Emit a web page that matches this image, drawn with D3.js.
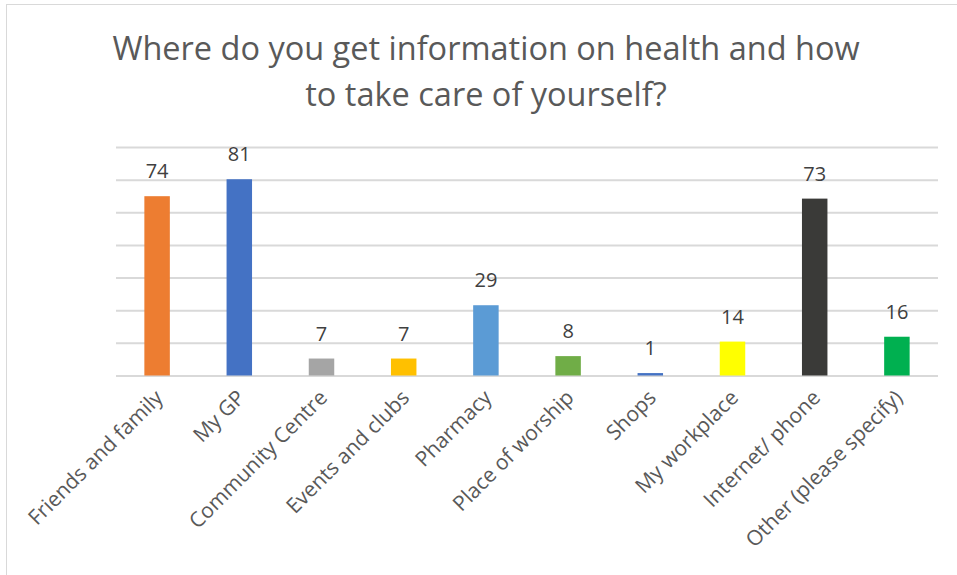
<!DOCTYPE html>
<html>
<head>
<meta charset="utf-8">
<script src="https://cdn.jsdelivr.net/npm/d3@7"></script>
<style>
  body { margin: 0; background: #fff; }
  svg { display: block; font-family: "Open Sans", sans-serif; }
</style>
</head>
<body>
<svg id="chart" width="957" height="575"></svg>
<script>
// Survey answers
var categories = ["Friends and family", "My GP", "Community Centre", "Events and clubs",
    "Pharmacy", "Place of worship", "Shops", "My workplace", "Internet/ phone",
    "Other (please specify)"];
var counts = [74, 81, 7, 7, 29, 8, 1, 14, 73, 16];
var colors = ["#ED7D31", "#4472C4", "#A5A5A5", "#FFC000", "#5B9BD5", "#70AD47",
    "#4472C4", "#FFFF00", "#3A3A38", "#00B050"];
var titleLines = ["Where do you get information on health and how", "to take care of yourself?"];

var svg = d3.select("#chart");

// chart frame (only left/top edges fall inside the picture)
svg.append("rect")
    .attr("x", 6.5).attr("y", 4.5)
    .attr("width", 1200).attr("height", 1200)
    .style("fill", "none")
    .style("stroke", "#d9d9d9");

var plot = { left: 116, right: 938, top: 147, bottom: 375.5 };

var x = d3.scaleBand()
    .domain(categories)
    .range([plot.left, plot.right])
    .paddingInner(0.69)
    .paddingOuter(0.345);

// grid spans 7 equal steps
var gridSteps = 7;
var yMax = 94.3;
var y = d3.scaleLinear()
    .domain([0, yMax])
    .range([plot.bottom, plot.top]);

var grid = svg.append("g")
    .attr("class", "grid")
    .attr("transform", "translate(" + plot.left + ",0)")
    .call(d3.axisLeft(y)
        .tickValues(d3.range(0, gridSteps + 1).map(function (i) { return i * yMax / gridSteps; }))
        .tickSize(-(plot.right - plot.left))
        .tickFormat(""));
grid.select(".domain").remove();
grid.selectAll("line")
    .style("stroke", "#d9d9d9")
    .style("stroke-width", 2);

// bars
svg.append("g")
    .selectAll("rect")
    .data(counts)
    .join("rect")
    .attr("x", function (d, i) { return x(categories[i]); })
    .attr("y", function (d) { return y(d); })
    .attr("width", x.bandwidth())
    .attr("height", function (d) { return y(0) - y(d); })
    .style("fill", function (d, i) { return colors[i]; });

// value labels
svg.append("g")
    .selectAll("text")
    .data(counts)
    .join("text")
    .attr("x", function (d, i) { return x(categories[i]) + x.bandwidth() / 2; })
    .attr("y", function (d) { return y(d) - 18; })
    .attr("text-anchor", "middle")
    .style("font-size", "20px")
    .style("fill", "#404040")
    .text(function (d) { return d; });

// category labels, slanted
svg.append("g")
    .selectAll("text")
    .data(categories)
    .join("text")
    .attr("transform", function (d) {
        return "translate(" + (x(d) + x.bandwidth() / 2 + 7) + "," + 399 + ") rotate(-45)";
    })
    .attr("text-anchor", "end")
    .style("font-size", "21px")
    .style("fill", "#595959")
    .text(function (d) { return d; });

// title
svg.append("g")
    .selectAll("text")
    .data(titleLines)
    .join("text")
    .attr("x", 486)
    .attr("y", function (d, i) { return 60 + i * 46; })
    .attr("text-anchor", "middle")
    .style("font-size", "32.5px")
    .style("fill", "#595959")
    .text(function (d) { return d; });
</script>
</body>
</html>
